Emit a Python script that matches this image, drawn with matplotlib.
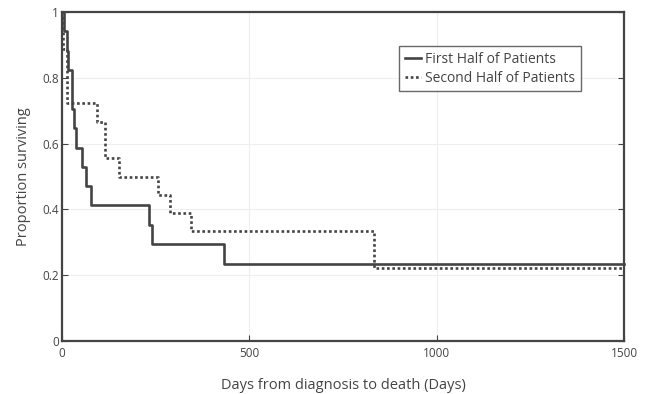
import matplotlib
matplotlib.use("Agg")
import matplotlib.pyplot as plt

plt.rcParams["font.family"] = ["Open Sans", "DejaVu Sans"]

# Kaplan-Meier style survival steps
first_days = [0, 5, 13, 16, 27, 33, 37, 53, 63, 77, 233, 241, 432, 1500]
first_surv = [1.0, 0.941, 0.882, 0.824, 0.706, 0.647, 0.588, 0.529, 0.471,
              0.412, 0.353, 0.294, 0.235, 0.235]

second_days = [0, 3, 13, 93, 115, 152, 257, 288, 344, 833, 1500]
second_surv = [1.0, 0.889, 0.722, 0.667, 0.556, 0.5, 0.444, 0.389, 0.333,
               0.222, 0.222]

x_ticks = [0, 500, 1000, 1500]
y_ticks = [0, 0.2, 0.4, 0.6, 0.8, 1]
y_tick_labels = ["0", "0.2", "0.4", "0.6", "0.8", "1"]

ink = "#444444"

fig = plt.figure(figsize=(6.46, 3.94), dpi=100)
ax = fig.add_axes([62 / 646, 53 / 394, 562 / 646, 329 / 394])

ax.plot(first_days, first_surv, drawstyle="steps-post", color=ink,
        linewidth=1.9, label="First Half of Patients", clip_on=False, zorder=3)
ax.plot(second_days, second_surv, drawstyle="steps-post", color=ink,
        linewidth=1.9, linestyle=(0, (1, 1)), label="Second Half of Patients",
        clip_on=False, zorder=3)

ax.set_xlim(0, 1500)
ax.set_ylim(0, 1)
ax.set_xticks(x_ticks)
ax.set_yticks(y_ticks)
ax.set_yticklabels(y_tick_labels)
ax.grid(True, color="#eeeeee", linewidth=0.8)
ax.set_axisbelow(True)

for side in ax.spines.values():
    side.set_color(ink)
    side.set_linewidth(1.6)

ax.tick_params(axis="both", direction="in", length=4, width=0.8, color=ink,
               labelsize=8.5, labelcolor="#444444", pad=2)
ax.tick_params(axis="y", right=True)
ax.tick_params(axis="x", pad=4)

ax.set_xlabel("Days from diagnosis to death (Days)", fontsize=10.5,
              color="#444444", labelpad=13)
ax.set_ylabel("Proportion surviving", fontsize=10.5, color="#444444",
              labelpad=8)

leg = ax.legend(loc="upper left", bbox_to_anchor=(337 / 562, 1 - 34 / 329),
                fontsize=10, frameon=True, fancybox=False, handlelength=1.2,
                handletextpad=0.3, borderpad=0.4, labelspacing=0.3,
                borderaxespad=0)
leg.get_frame().set_edgecolor(ink)
leg.get_frame().set_linewidth(1.0)
for t in leg.get_texts():
    t.set_color("#444444")

fig.savefig("out.png", dpi=100)
